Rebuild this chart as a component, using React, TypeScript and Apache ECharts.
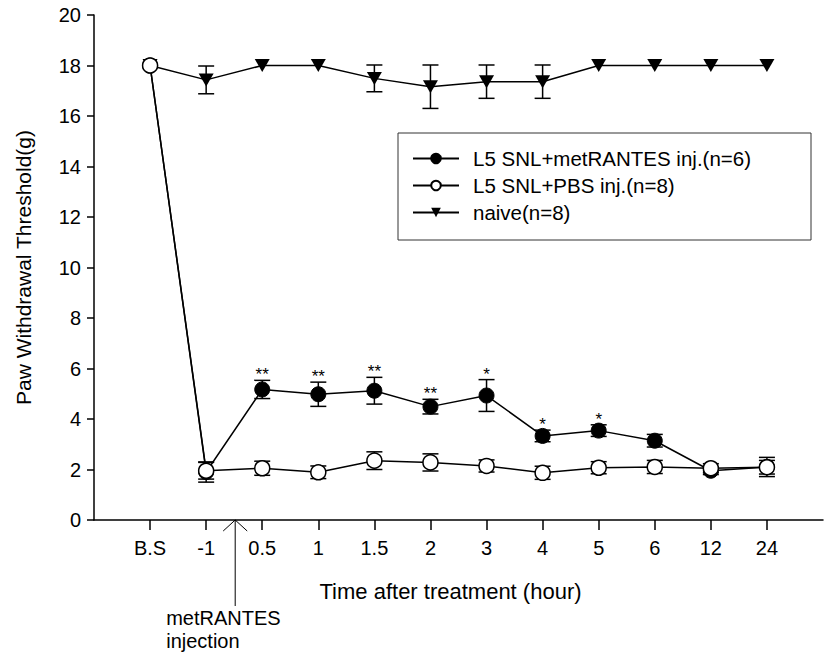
import React, { useEffect, useRef } from "react";
import * as echarts from "echarts";

const categories = ["B.S", "-1", "0.5", "1", "1.5", "2", "3", "4", "5", "6", "12", "24"];
const metMean = [18, 1.9, 5.17, 4.98, 5.12, 4.49, 4.93, 3.33, 3.54, 3.14, 1.95, 2.1];
const metErr = [0, 0.4, 0.36, 0.48, 0.53, 0.29, 0.63, 0.23, 0.23, 0.25, 0.15, 0.38];
const pbsMean = [18, 1.95, 2.05, 1.89, 2.35, 2.28, 2.14, 1.87, 2.07, 2.1, 2.05, 2.09];
const pbsErr = [0, 0.33, 0.28, 0.25, 0.35, 0.34, 0.24, 0.26, 0.24, 0.26, 0.18, 0.27];
const naiveMean = [18, 17.43, 18, 18, 17.49, 17.16, 17.36, 17.36, 18, 18, 18, 18];
const naiveErr = [0, 0.55, 0, 0, 0.53, 0.86, 0.66, 0.66, 0, 0, 0, 0];
const stars = ["", "", "**", "**", "**", "**", "*", "*", "*", "", "", ""];

const seriesNames = ["L5 SNL+metRANTES inj.(n=6)", "L5 SNL+PBS inj.(n=8)", "naive(n=8)"];

const FONT = "Liberation Sans, Arial, sans-serif";
const axisData = ["", ...categories, ""];

function pts(vals: number[]) {
  return vals.map((v, i) => [i + 1, v]);
}
function errPts(vals: number[], errs: number[]) {
  return vals.map((v, i) => [i + 1, v, errs[i]]);
}

function errorRender(withStars: boolean) {
  return (params: any, api: any) => {
    const x = api.value(0);
    const y = api.value(1);
    const e = api.value(2);
    const children: any[] = [];
    const top = api.coord([x, y + e]);
    const bot = api.coord([x, y - e]);
    const st = { stroke: "#000", lineWidth: 1.5 };
    if (e > 0) {
      children.push({ type: "line", shape: { x1: top[0], y1: top[1], x2: bot[0], y2: bot[1] }, style: st });
      children.push({ type: "line", shape: { x1: top[0] - 8, y1: top[1], x2: top[0] + 8, y2: top[1] }, style: st });
      children.push({ type: "line", shape: { x1: bot[0] - 8, y1: bot[1], x2: bot[0] + 8, y2: bot[1] }, style: st });
    }
    if (withStars) {
      const s = stars[params.dataIndex];
      if (s) {
        children.push({
          type: "text",
          x: top[0],
          y: top[1] + 3,
          style: {
            text: s,
            fill: "#000",
            font: `17px ${FONT}`,
            align: "center",
            verticalAlign: "bottom",
          },
        });
      }
    }
    return { type: "group", children };
  };
}

export default function App() {
  const ref = useRef<HTMLDivElement>(null);
  useEffect(() => {
    if (!ref.current) return;
    const chart = echarts.init(ref.current, undefined, { renderer: "svg" });
    const lineStyle = { color: "#000", width: 1.5 };
    const option: any = {
      animation: false,
      backgroundColor: "#fff",
      textStyle: { fontFamily: FONT, color: "#000" },
      grid: { left: 94, top: 15, width: 742, height: 505, containLabel: false },
      legend: {
        orient: "vertical",
        left: 398,
        top: 133,
        data: seriesNames,
        itemWidth: 46,
        itemHeight: 12,
        itemGap: 6,
        padding: [15, 60, 17, 14],
        borderColor: "#333",
        borderWidth: 1,
        borderRadius: 0,
        backgroundColor: "#fff",
        textStyle: { fontSize: 20.5, lineHeight: 20, color: "#000", fontFamily: FONT, padding: [0, 0, 0, 9] },
      },
      xAxis: {
        type: "category",
        data: axisData,
        boundaryGap: false,
        name: "Time after treatment (hour)",
        nameLocation: "middle",
        nameGap: 60,
        nameTextStyle: { fontSize: 22, color: "#000", fontFamily: FONT, padding: [0, 16, 0, 0] },
        axisLine: { lineStyle: { color: "#000", width: 1.5 } },
        axisTick: {
          length: 10,
          lineStyle: { color: "#000", width: 1.5 },
          interval: (i: number) => i > 0 && i < axisData.length - 1,
        },
        axisLabel: { fontSize: 20, color: "#000", margin: 18, interval: 0, fontFamily: FONT },
        splitLine: { show: false },
      },
      yAxis: {
        type: "value",
        min: 0,
        max: 20,
        interval: 2,
        name: "Paw Withdrawal Threshold(g)",
        nameLocation: "middle",
        nameGap: 60,
        nameTextStyle: { fontSize: 21, color: "#000", fontFamily: FONT },
        axisLine: { show: true, lineStyle: { color: "#000", width: 1.5 } },
        axisTick: { show: true, length: 7, lineStyle: { color: "#000", width: 1.5 } },
        axisLabel: { fontSize: 20, color: "#000", margin: 13, fontFamily: FONT },
        splitLine: { show: false },
      },
      series: [
        {
          type: "custom",
          name: "errNaive",
          renderItem: errorRender(false),
          data: errPts(naiveMean, naiveErr),
          z: 1,
          silent: true,
        },
        {
          type: "custom",
          name: "errMet",
          renderItem: errorRender(true),
          data: errPts(metMean, metErr),
          z: 1,
          silent: true,
        },
        {
          type: "custom",
          name: "errPbs",
          renderItem: errorRender(false),
          data: errPts(pbsMean, pbsErr),
          z: 1,
          silent: true,
        },
        {
          type: "line",
          name: seriesNames[2],
          data: pts(naiveMean),
          symbol: "path://M0,0L16,0L8,14Z",
          symbolSize: [15, 13],
          lineStyle,
          itemStyle: { color: "#000" },
          z: 3,
        },
        {
          type: "line",
          name: seriesNames[0],
          data: pts(metMean),
          symbol: "circle",
          symbolSize: 15,
          lineStyle,
          itemStyle: { color: "#000", borderColor: "#000", borderWidth: 1 },
          z: 4,
        },
        {
          type: "line",
          name: seriesNames[1],
          data: pts(pbsMean),
          symbol: "circle",
          symbolSize: 15,
          showAllSymbol: true,
          lineStyle,
          itemStyle: { color: "#fff", borderColor: "#000", borderWidth: 1.5 },
          z: 5,
        },
      ],
    };
    chart.setOption(option);

    const xa = chart.convertToPixel({ xAxisIndex: 0 }, 2) as number;
    const xb = chart.convertToPixel({ xAxisIndex: 0 }, 3) as number;
    const y0 = chart.convertToPixel({ yAxisIndex: 0 }, 0) as number;
    const ax = (xa + xb) / 2 + 1;
    chart.setOption({
      graphic: [
        { type: "line", shape: { x1: ax, y1: y0, x2: ax, y2: y0 + 86 }, style: { stroke: "#000", lineWidth: 1 } },
        {
          type: "polyline",
          shape: { points: [[ax - 12, y0 + 11], [ax, y0], [ax + 12, y0 + 11]] },
          style: { stroke: "#000", lineWidth: 1, fill: null },
        },
        {
          type: "text",
          x: ax - 69,
          y: y0 + 86,
          style: {
            text: "metRANTES\ninjection",
            font: `20px ${FONT}`,
            fill: "#000",
            lineHeight: 23,
            align: "left",
            verticalAlign: "top",
          },
        },
      ],
    });
    return () => chart.dispose();
  }, []);
  return <div ref={ref} style={{ width: 826, height: 654, position: "absolute", left: 0, top: 0 }} />;
}
